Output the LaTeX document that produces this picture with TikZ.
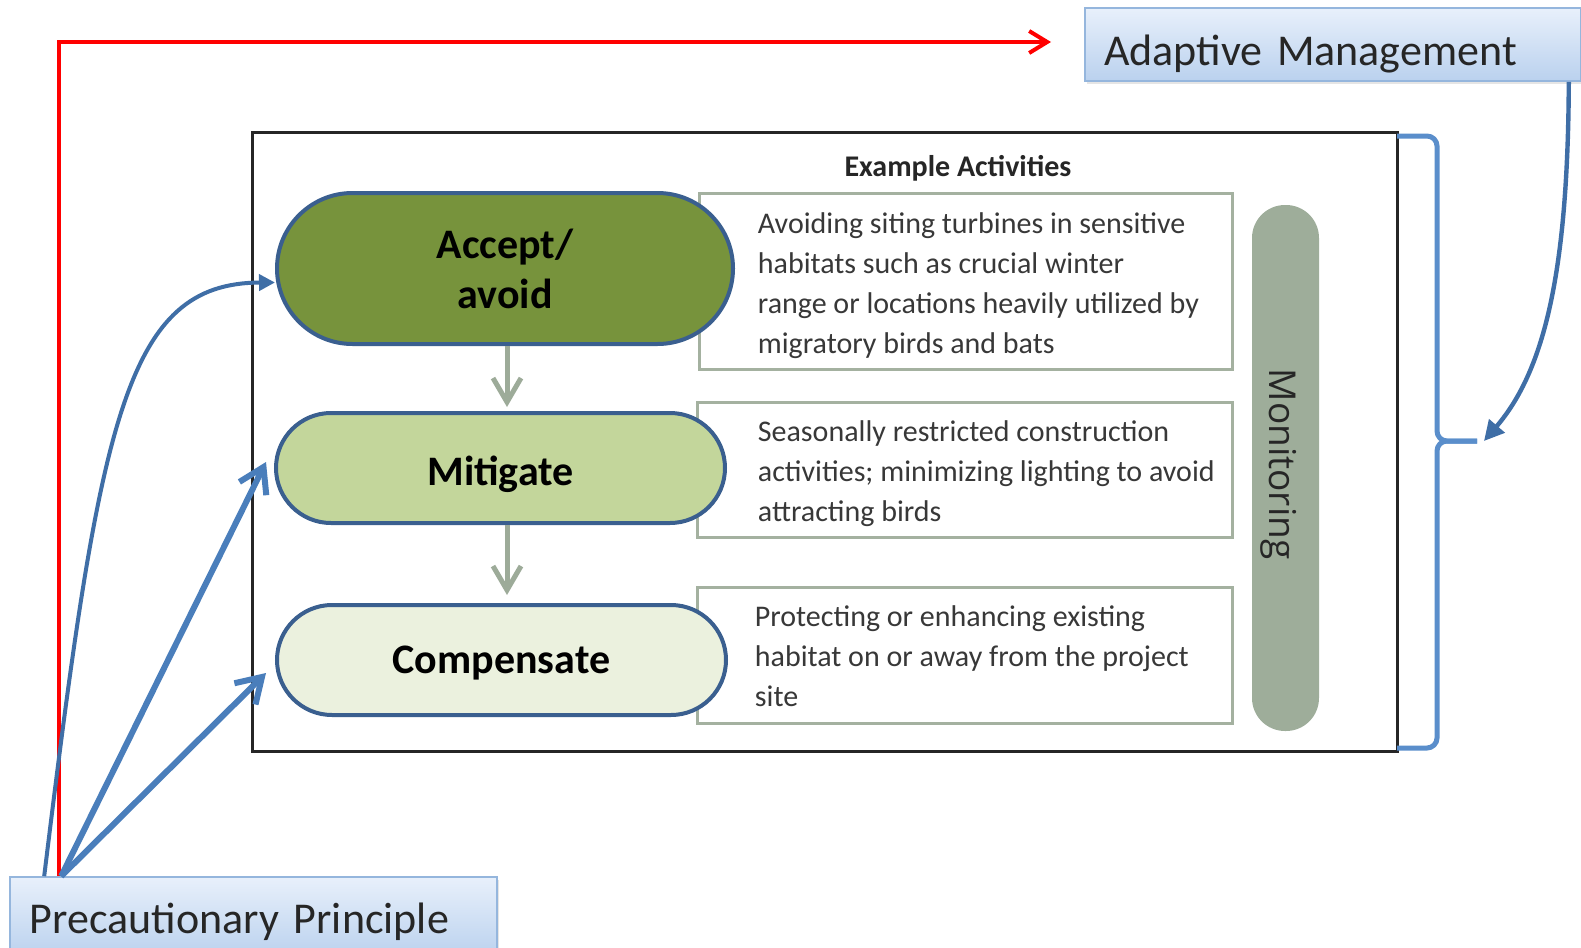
\documentclass[tikz,border=0pt]{standalone}
\usepackage{fontspec}
\setmainfont{Carlito}
\newfontfamily\monfont{Open Sans}
\usetikzlibrary{arrows.meta,shapes.misc,shadows}
\definecolor{accfill}{HTML}{77933C}
\definecolor{mitfill}{HTML}{C3D69B}
\definecolor{compfill}{HTML}{EBF1DE}
\definecolor{stadline}{HTML}{3A5F8F}
\definecolor{grayarrow}{HTML}{9DAB99}
\definecolor{actline}{HTML}{A4B1A0}
\definecolor{monfill}{HTML}{9EAD9A}
\definecolor{brkblue}{HTML}{5A8ECB}
\definecolor{curveblue}{HTML}{3F6EA6}
\definecolor{ppblue}{HTML}{4A7EBB}
\definecolor{boxtop}{HTML}{E8F0FB}
\definecolor{boxbottom}{HTML}{BAD1EE}
\definecolor{boxline}{HTML}{95B6DD}
\definecolor{bodytext}{HTML}{383838}
\begin{document}
\begin{tikzpicture}[x=0.5pt,y=-0.5pt,
  stad/.style={rounded rectangle, draw=stadline, line width=2pt, inner sep=0pt,
    font=\bfseries\fontsize{21}{25}\selectfont, text=black, align=center},
  actbox/.style={draw=actline, line width=1.5pt, fill=white, inner sep=0pt},
  acttext/.style={anchor=west, align=left, text=bodytext, inner sep=0pt,
    font=\fontsize{15}{20}\selectfont},
  lblbox/.style={draw=boxline, line width=0.8pt, top color=boxtop, bottom color=boxbottom,
    font=\fontsize{22}{26}\selectfont, text=black!85, align=left, inner ysep=0pt,
    drop shadow={opacity=0.2, shadow xshift=1pt, shadow yshift=-1.5pt}},
  flow/.style={draw=grayarrow, line width=2.5pt, -{Straight Barb[length=12pt,width=14pt]}},
  pparrow/.style={draw=ppblue, line width=3pt, -{Straight Barb[length=12pt,width=15pt]}},
  curvearrow/.style={draw=curveblue, line width=2pt, -{Triangle[length=8pt,width=8pt]}},
  redline/.style={draw=red, line width=2pt, -{Straight Barb[length=9pt,width=11pt]}},
  brk/.style={draw=brkblue, line width=2.5pt, rounded corners=5pt}
]
\useasboundingbox (0,0) rectangle (1581,948);
\fill[white] (0,0) rectangle (1581,948);

% frame
\node[draw=black!85, line width=1.5pt, minimum width=572.5pt, minimum height=309.5pt, inner sep=0pt] (frame) at (824.5,441.5) {};

% heading
\node[font=\bfseries\fontsize{15}{18}\selectfont, text=black!85] (head) at (958,168) {Example Activities};

% activity boxes
\node[actbox, minimum width=266.5pt, minimum height=88pt] (t1) at (965.5,281) {};
\node[actbox, minimum width=267.5pt, minimum height=67.5pt] (t2) at (964.5,469.5) {};
\node[actbox, minimum width=267.5pt, minimum height=68pt] (t3) at (964.5,655) {};
\node[acttext] (t1text) at ([xshift=30pt,yshift=-2.5pt]t1.west) {Avoiding siting turbines in sensitive\\habitats such as crucial winter\\range or locations heavily utilized by\\migratory birds and bats};
\node[acttext] (t2text) at ([xshift=31pt,yshift=-2pt]t2.west) {Seasonally restricted construction\\activities; minimizing lighting to avoid\\attracting birds};
\node[acttext] (t3text) at ([xshift=29.5pt,yshift=-0.5pt]t3.west) {Protecting or enhancing existing\\habitat on or away from the project\\site};

% monitoring bar
\node[fill=monfill, minimum width=33.5pt, minimum height=263pt, rounded corners=16.5pt, inner sep=0pt] (mon) at (1285.5,468) {};
\node[rotate=-90, font=\monfont\fontsize{18.5}{22}\selectfont, text=black!85] (montext) at (1279,464) {Monitoring};

% stadium nodes
\node[stad, fill=accfill, minimum width=228pt, minimum height=75.5pt] (accept) at (505,268.5) {Accept/\\avoid};
\node[stad, fill=mitfill, minimum width=224.5pt, minimum height=55pt, text height=17.5pt, text depth=0pt] (mitigate) at (500.5,468) {Mitigate};
\node[stad, fill=compfill, minimum width=224.5pt, minimum height=55pt, text height=13.4pt, text depth=0pt] (compensate) at (501.5,660) {Compensate};

\draw[flow, shorten >=2pt] ([xshift=1pt]accept.south) -- ([xshift=3.25pt]mitigate.north);
\draw[flow, shorten >=4pt] ([xshift=3.25pt]mitigate.south) -- ([xshift=2.75pt]compensate.north);

% bracket
\coordinate (spike) at (1477,441);
\draw[brk] (1397,136) -- (1437,136) -- (1437,441) -- (spike);
\draw[brk] (spike) -- (1437,441) -- (1437,748) -- (1397,748);

% label boxes
\node[lblbox, minimum width=248pt, minimum height=36.5pt, text width=229pt, inner xsep=9.5pt, text height=20.6pt, text depth=0pt] (am) at (1333,44.5) {Adaptive Management};
\node[lblbox, minimum width=243.5pt, minimum height=40.5pt, text width=223.5pt, inner xsep=10pt, text height=15.6pt, text depth=0pt] (pp) at (253.5,917.5) {Precautionary Principle};

% adaptive management arrow
\coordinate (amtip) at (1484,441);
\draw[curvearrow, line width=2.2pt, -{Triangle[length=10pt,width=10pt]}] ([xshift=-6.5pt]am.south east) .. controls (1568,270) and (1545,370) .. (amtip);

% red line
\coordinate (redtip) at (1051,42);
\draw[redline] ([xshift=25pt]pp.north west) |- (redtip);

% precautionary arrows
\draw[curvearrow] ([xshift=17.5pt]pp.north west) .. controls (100,420) and (125,283) .. ([yshift=-7pt]accept.west);
\draw[pparrow] ([xshift=26pt]pp.north west) -- ([xshift=-4pt,yshift=3pt]mitigate.west);
\draw[pparrow] ([xshift=26pt]pp.north west) -- ([xshift=-4.5pt,yshift=-6.5pt]compensate.west);
\end{tikzpicture}
\end{document}
